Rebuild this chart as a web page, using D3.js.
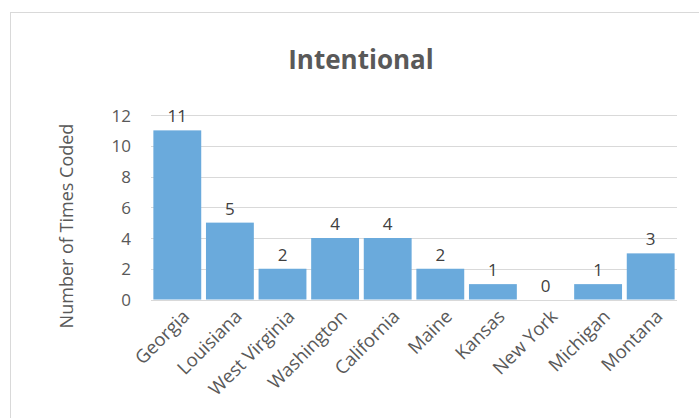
<!DOCTYPE html>
<html><head><meta charset="utf-8">
<script src="https://cdn.jsdelivr.net/npm/d3@7"></script>
<style>body{margin:0;background:#fff;} svg{display:block;}</style>
</head><body>
<script>
const categories = ["Georgia","Louisiana","West Virginia","Washington","California","Maine","Kansas","New York","Michigan","Montana"];
const values = [11,5,2,4,4,2,1,0,1,3];
const yTicks = [0,2,4,6,8,10,12];
const title = "Intentional";
const yLabel = "Number of Times Coded";

const W = 699, H = 418;
const svg = d3.select("body").append("svg").attr("width", W).attr("height", H);
const font = "'Open Sans', sans-serif";

// chart border
svg.append("rect").attr("x", 10.5).attr("y", 12.5).attr("width", 700).attr("height", 420)
  .attr("fill", "none").attr("stroke", "#d9d9d9").attr("stroke-width", 1);

const x = d3.scaleBand().domain(categories).range([151, 677]).paddingInner(0.09).paddingOuter(0.045);
const y = d3.scaleLinear().domain([0, 12]).range([299.5, 115]);

// gridlines
svg.append("g").selectAll("line").data(yTicks).join("line")
  .attr("x1", 151).attr("x2", 677)
  .attr("y1", d => Math.round(y(d)) + 0.5).attr("y2", d => Math.round(y(d)) + 0.5)
  .attr("stroke", "#d9d9d9").attr("stroke-width", 1);

// y axis labels
const yAxis = d3.axisLeft(y).tickValues(yTicks).tickSize(0).tickPadding(0);
const gy = svg.append("g").attr("transform", "translate(131,0)").call(yAxis);
gy.select(".domain").remove();
gy.selectAll("text").attr("font-family", font).attr("font-size", 17).attr("fill", "#595959").attr("dy", "0.36em");

// bars
svg.append("g").selectAll("rect").data(values).join("rect")
  .attr("x", (d, i) => x(categories[i]))
  .attr("width", x.bandwidth())
  .attr("y", d => y(d))
  .attr("height", d => y(0) - y(d))
  .attr("fill", "#6aaadc");

// value labels
svg.append("g").selectAll("text").data(values).join("text")
  .attr("x", (d, i) => x(categories[i]) + x.bandwidth() / 2)
  .attr("y", d => y(d) - 8)
  .attr("text-anchor", "middle")
  .attr("font-family", font).attr("font-size", 17).attr("fill", "#404040")
  .text(d => d);

// x axis labels
const xAxis = d3.axisBottom(x).tickSize(0).tickPadding(0);
const gx = svg.append("g").attr("transform", "translate(0,299.5)").call(xAxis);
gx.select(".domain").remove();
gx.selectAll("text")
  .attr("font-family", font).attr("font-size", 18.5).attr("fill", "#595959")
  .attr("text-anchor", "end")
  .attr("transform", "translate(4,9) rotate(-45)")
  .attr("dy", "0.7em").attr("y", 0).attr("x", 0);

// title
svg.append("text").attr("x", 361).attr("y", 69).attr("text-anchor", "middle")
  .attr("font-family", font).attr("font-weight", 700).attr("font-size", 26).attr("fill", "#595959")
  .text(title);

// y label
svg.append("text").attr("transform", "translate(73,226) rotate(-90)").attr("text-anchor", "middle")
  .attr("font-family", font).attr("font-size", 18).attr("fill", "#595959")
  .text(yLabel);
</script>
</body></html>
